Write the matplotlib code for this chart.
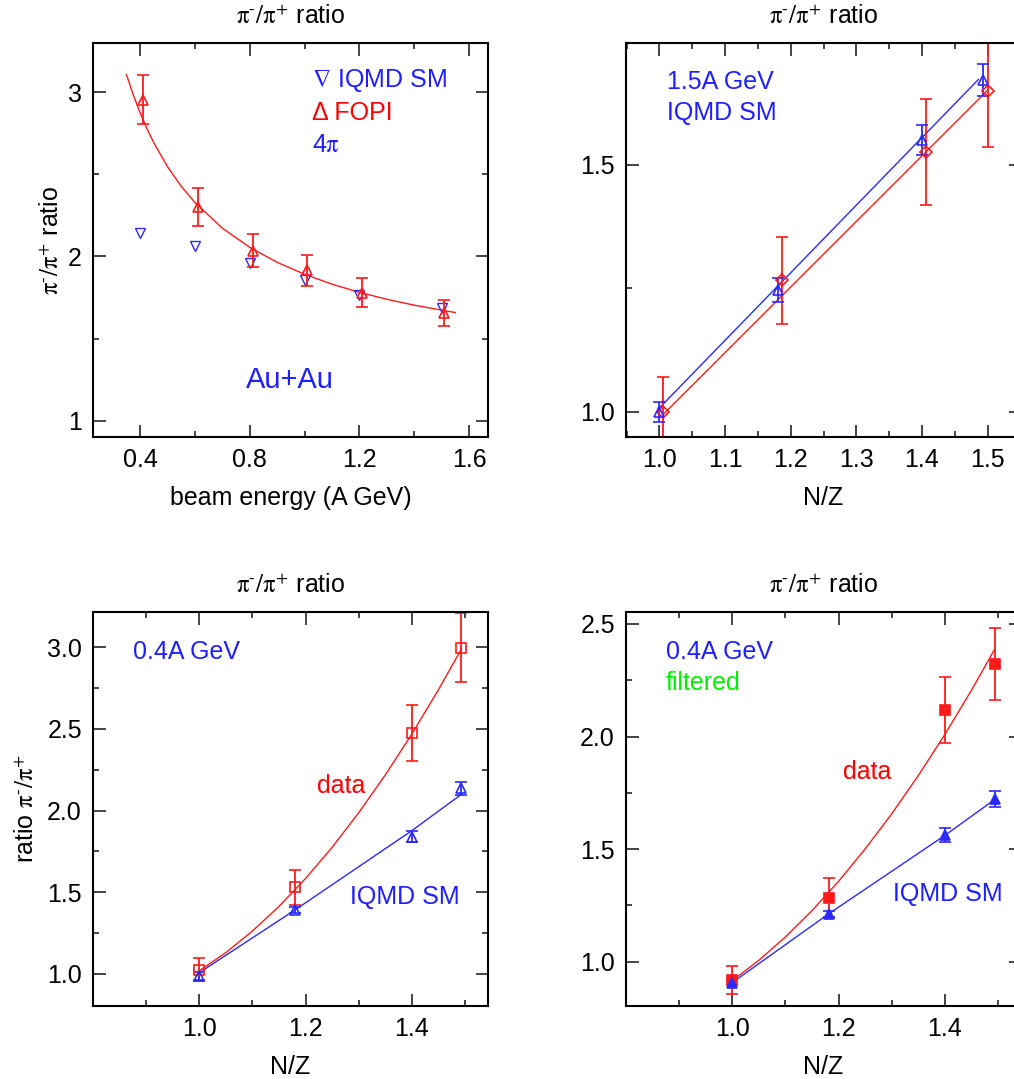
import matplotlib
matplotlib.use('Agg')
import matplotlib.pyplot as plt
from matplotlib.ticker import MultipleLocator

plt.rcParams['font.family'] = ['Liberation Sans', 'DejaVu Sans']
plt.rcParams['mathtext.fontset'] = 'stix'

# ---- panel 1: ratio vs beam energy (Au+Au)
e_fopi = [0.41, 0.61, 0.81, 1.01, 1.21, 1.51]
r_fopi = [2.955, 2.30, 2.035, 1.915, 1.78, 1.655]
err_fopi = [0.15, 0.115, 0.10, 0.095, 0.09, 0.08]
e_iqmd = [0.40, 0.60, 0.80, 1.00, 1.20, 1.50]
r_iqmd = [2.14, 2.062, 1.957, 1.855, 1.764, 1.683]
e_fit = [0.35, 0.375, 0.40, 0.425, 0.45, 0.50, 0.55, 0.60, 0.70, 0.80, 0.90,
         1.00, 1.10, 1.20, 1.30, 1.40, 1.55]
r_fit = [3.108, 2.984, 2.874, 2.778, 2.692, 2.546, 2.427, 2.328, 2.172, 2.055,
         1.964, 1.891, 1.831, 1.781, 1.739, 1.703, 1.658]

# ---- panel 2: 1.5A GeV, ratio vs N/Z
nz_b15 = [1.0, 1.18, 1.40, 1.493]
r_b15 = [1.0, 1.247, 1.55, 1.672]
err_b15 = [0.02, 0.025, 0.03, 0.033]
nz_r15 = [1.006, 1.186, 1.406, 1.50]
r_r15 = [1.0, 1.266, 1.526, 1.650]
err_r15 = [0.07, 0.089, 0.107, 0.114]
line_b15_x = [1.0, 1.486]
line_b15_y = [1.008, 1.673]
line_r15_x = [1.006, 1.50]
line_r15_y = [0.995, 1.651]

# ---- panel 3: 0.4A GeV, ratio vs N/Z
nz_04 = [1.0, 1.18, 1.40, 1.493]
r_data04 = [1.025, 1.531, 2.473, 2.998]
err_data04 = [0.07, 0.108, 0.172, 0.21]
r_iqmd04 = [0.99, 1.392, 1.841, 2.137]
err_iqmd04 = [0.025, 0.02, 0.034, 0.04]
fit04_x = [1.0, 1.05, 1.10, 1.15, 1.20, 1.25, 1.30, 1.35, 1.40, 1.45, 1.493]
fit04_y = [1.02, 1.131, 1.263, 1.414, 1.585, 1.776, 1.988, 2.219, 2.47, 2.741, 2.99]
line04_x = [1.0, 1.18, 1.40, 1.493]
line04_y = [1.008, 1.392, 1.878, 2.10]

# ---- panel 4: 0.4A GeV filtered
nz_f = [1.0, 1.181, 1.40, 1.494]
r_dataf = [0.919, 1.281, 2.118, 2.322]
err_dataf = [0.063, 0.089, 0.148, 0.162]
r_iqmdf = [0.907, 1.212, 1.561, 1.721]
err_iqmdf = [0.012, 0.015, 0.031, 0.035]
fitf_x = [1.0, 1.05, 1.10, 1.15, 1.20, 1.25, 1.30, 1.35, 1.40, 1.45, 1.494]
fitf_y = [0.916, 1.006, 1.11, 1.227, 1.357, 1.501, 1.657, 1.827, 2.01, 2.206, 2.39]

RED = '#ff1a1a'
BLUE = '#2a2aff'
TXT_BLUE = '#1f1fff'
GREEN = '#00ee00'
PIRATIO = r'$\mathrm{\pi}^{\text{-}}/\mathrm{\pi}^{\text{+}}$'
TITLE = PIRATIO + ' ratio'

W, H = 1014, 1079
fig = plt.figure(figsize=(W / 100, H / 100), dpi=100)


def make_ax(left, top):
    ax = fig.add_axes([left / W, 1 - (top + 394) / H, 395 / W, 394 / H])
    for s in ax.spines.values():
        s.set_linewidth(1.5)
    ax.tick_params(which='both', direction='in', top=True, right=True,
                   color='#444444', width=1.4, labelsize=18, pad=8)
    ax.tick_params(which='major', length=9)
    ax.tick_params(which='minor', length=4.5)
    ax.set_title(TITLE, fontsize=18, pad=14)
    return ax


def ebar(ax, x, y, e, color, marker, fill=False, ms=7.5):
    ax.errorbar(x, y, yerr=e, fmt=marker, color=color, ms=ms,
                mfc=color if fill else 'none', mec=color, mew=1.2,
                elinewidth=1.3, capsize=4, capthick=1.3, clip_on=True)


# panel 1
ax1 = make_ax(93, 43)
ax1.plot(e_fit, r_fit, color=RED, lw=1.0)
ax1.plot(e_iqmd, r_iqmd, 'v', color=BLUE, mfc='none', ms=7.5, mew=1.0)
ebar(ax1, e_fopi, r_fopi, err_fopi, RED, '^')
ax1.set_xlim(0.228, 1.669)
ax1.set_ylim(0.90, 3.30)
ax1.xaxis.set_major_locator(MultipleLocator(0.4))
ax1.xaxis.set_minor_locator(MultipleLocator(0.2))
ax1.yaxis.set_major_locator(MultipleLocator(1))
ax1.yaxis.set_minor_locator(MultipleLocator(0.5))
ax1.xaxis.set_major_formatter(plt.FuncFormatter(lambda v, p: '%.1f' % v))
ax1.yaxis.set_major_formatter(plt.FuncFormatter(lambda v, p: '%d' % round(v)))
ax1.set_xlabel('beam energy (A GeV)', fontsize=18, labelpad=10)
ax1.set_ylabel(TITLE, fontsize=18, labelpad=3)
ax1.text(0.554, 0.904, r'$\nabla$ IQMD SM', color=TXT_BLUE, fontsize=18,
         transform=ax1.transAxes, va='center')
ax1.text(0.554, 0.822, 'Δ FOPI', color='red', fontsize=18,
         transform=ax1.transAxes, va='center')
ax1.text(0.554, 0.741, r'4$\mathrm{\pi}$', color=TXT_BLUE, fontsize=18,
         transform=ax1.transAxes, va='center')
ax1.text(0.499, 0.145, 'Au+Au', color=TXT_BLUE, fontsize=21,
         transform=ax1.transAxes, va='center', ha='center')

# panel 2
ax2 = make_ax(626, 43)
ax2.plot(line_b15_x, line_b15_y, color=BLUE, lw=1.0)
ax2.plot(line_r15_x, line_r15_y, color=RED, lw=1.0)
ebar(ax2, nz_r15, r_r15, err_r15, RED, 'D', ms=6.5)
ebar(ax2, nz_b15, r_b15, err_b15, BLUE, '^')
ax2.set_xlim(0.949, 1.551)
ax2.set_ylim(0.949, 1.747)
ax2.xaxis.set_major_locator(MultipleLocator(0.1))
ax2.xaxis.set_minor_locator(MultipleLocator(0.05))
ax2.yaxis.set_major_locator(MultipleLocator(0.5))
ax2.yaxis.set_minor_locator(MultipleLocator(0.25))
ax2.xaxis.set_major_formatter(plt.FuncFormatter(lambda v, p: '%.1f' % v))
ax2.yaxis.set_major_formatter(plt.FuncFormatter(lambda v, p: '%.1f' % v))
ax2.set_xlabel('N/Z', fontsize=18, labelpad=10)
ax2.text(0.104, 0.901, '1.5A GeV', color=TXT_BLUE, fontsize=18,
         transform=ax2.transAxes, va='center')
ax2.text(0.104, 0.822, 'IQMD SM', color=TXT_BLUE, fontsize=18,
         transform=ax2.transAxes, va='center')

# panel 3
ax3 = make_ax(93, 612)
ax3.plot(fit04_x, fit04_y, color=RED, lw=1.0)
ax3.plot(line04_x, line04_y, color=BLUE, lw=1.0)
ebar(ax3, nz_04, r_data04, err_data04, RED, 's')
ebar(ax3, nz_04, r_iqmd04, err_iqmd04, BLUE, '^')
ax3.set_xlim(0.80, 1.543)
ax3.set_ylim(0.804, 3.216)
ax3.xaxis.set_major_locator(MultipleLocator(0.2))
ax3.xaxis.set_minor_locator(MultipleLocator(0.1))
ax3.yaxis.set_major_locator(MultipleLocator(0.5))
ax3.yaxis.set_minor_locator(MultipleLocator(0.25))
ax3.xaxis.set_major_formatter(plt.FuncFormatter(lambda v, p: '%.1f' % v if v > 0.9 else ''))
ax3.yaxis.set_major_formatter(plt.FuncFormatter(lambda v, p: '%.1f' % v))
ax3.set_xlabel('N/Z', fontsize=18, labelpad=10)
ax3.set_ylabel('ratio ' + PIRATIO, fontsize=18, labelpad=6)
ax3.text(0.101, 0.898, '0.4A GeV', color=TXT_BLUE, fontsize=18,
         transform=ax3.transAxes, va='center')
ax3.text(0.567, 0.558, 'data', color='red', fontsize=18,
         transform=ax3.transAxes, va='center')
ax3.text(0.651, 0.277, 'IQMD SM', color=TXT_BLUE, fontsize=18,
         transform=ax3.transAxes, va='center')

# panel 4
ax4 = make_ax(626, 612)
ax4.plot(fitf_x, fitf_y, color=RED, lw=1.0)
ax4.plot(nz_f, r_iqmdf, color=BLUE, lw=1.0)
ebar(ax4, nz_f, r_dataf, err_dataf, RED, 's', fill=True)
ebar(ax4, nz_f, r_iqmdf, err_iqmdf, BLUE, '^', fill=True)
ax4.set_xlim(0.80, 1.543)
ax4.set_ylim(0.803, 2.553)
ax4.xaxis.set_major_locator(MultipleLocator(0.2))
ax4.xaxis.set_minor_locator(MultipleLocator(0.1))
ax4.yaxis.set_major_locator(MultipleLocator(0.5))
ax4.yaxis.set_minor_locator(MultipleLocator(0.25))
ax4.xaxis.set_major_formatter(plt.FuncFormatter(lambda v, p: '%.1f' % v if v > 0.9 else ''))
ax4.yaxis.set_major_formatter(plt.FuncFormatter(lambda v, p: '%.1f' % v))
ax4.set_xlabel('N/Z', fontsize=18, labelpad=10)
ax4.text(0.101, 0.898, '0.4A GeV', color=TXT_BLUE, fontsize=18,
         transform=ax4.transAxes, va='center')
ax4.text(0.101, 0.820, 'filtered', color=GREEN, fontsize=18,
         transform=ax4.transAxes, va='center')
ax4.text(0.549, 0.594, 'data', color='red', fontsize=18,
         transform=ax4.transAxes, va='center')
ax4.text(0.676, 0.284, 'IQMD SM', color=TXT_BLUE, fontsize=18,
         transform=ax4.transAxes, va='center')

fig.savefig('out.png', dpi=100)
